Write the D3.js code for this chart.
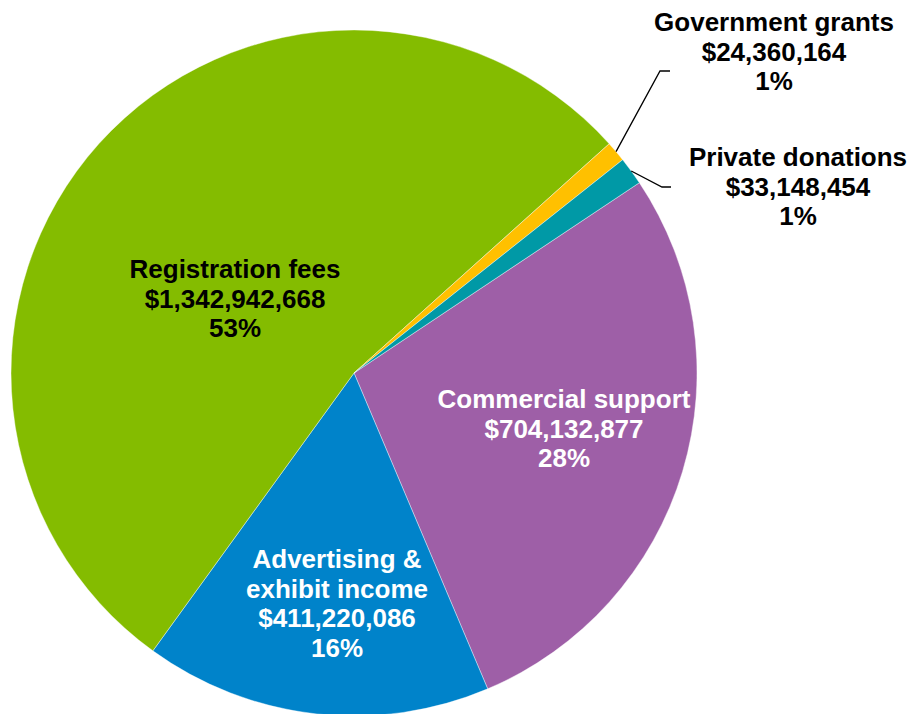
<!DOCTYPE html>
<html>
<head>
<meta charset="utf-8">
<script src="https://cdn.jsdelivr.net/npm/d3@7"></script>
<style>
  html, body { margin: 0; padding: 0; background: #fff; }
  svg { display: block; }
  text { font-family: Arial, "Liberation Sans", sans-serif; font-weight: bold; font-size: 26px; }
</style>
</head>
<body>
<svg id="chart" width="912" height="714"></svg>
<script>
// Revenue sources, in drawing order (clockwise)
const categories = ["Commercial support", "Advertising & exhibit income", "Registration fees", "Government grants", "Private donations"];
const values = [704132877, 411220086, 1342942668, 24360164, 33148454];
const colors = ["#9E5FA7", "#0083CA", "#84BC00", "#FFC000", "#0099A6"];

// Text lines of each label (name may wrap over two lines)
const nameLines = [["Commercial support"], ["Advertising &", "exhibit income"], ["Registration fees"], ["Government grants"], ["Private donations"]];
const textColors = ["#fff", "#fff", "#000", "#000", "#000"];

// Label layout: anchor x, first baseline y; optional elbow for leader lines
const labelLayout = [
  { x: 564, y: 408 },
  { x: 337, y: 568 },
  { x: 235, y: 278 },
  { x: 774, y: 31, elbow: [660, 71], end: [670, 71] },
  { x: 798, y: 166, elbow: [662, 187], end: [671, 187] }
];

const cx = 354, cy = 373, R = 343;
const lineGap = 29.5;

const total = d3.sum(values);
const fmtMoney = v => "$" + d3.format(",")(v);
const fmtPct = v => Math.round(v / total * 100) + "%";

const svg = d3.select("#chart");
const g = svg.append("g").attr("transform", `translate(${cx},${cy})`);

const start = 56.3 * Math.PI / 180;
const pie = d3.pie().sort(null).value(d => d).startAngle(start).endAngle(start + 2 * Math.PI);
const arcs = pie(values);
const arc = d3.arc().innerRadius(0).outerRadius(R);

g.selectAll("path.slice")
  .data(arcs)
  .join("path")
  .attr("class", "slice")
  .attr("d", arc)
  .attr("fill", (d, i) => colors[i])
  .attr("stroke", "#fff")
  .attr("stroke-width", 0.4);

// Leader lines for the thin slices
const edgeArc = d3.arc().innerRadius(R).outerRadius(R);
arcs.forEach((d, i) => {
  const L = labelLayout[i];
  if (!L.elbow) return;
  const [px, py] = edgeArc.centroid(d);
  svg.append("polyline")
    .attr("points", [[cx + px, cy + py], L.elbow, L.end].map(p => p.join(",")).join(" "))
    .attr("fill", "none")
    .attr("stroke", "#000")
    .attr("stroke-width", 1.3);
});

// Labels: name, amount, share
arcs.forEach((d, i) => {
  const L = labelLayout[i];
  const lines = nameLines[i].concat([fmtMoney(values[i]), fmtPct(values[i])]);
  const t = svg.append("text")
    .attr("text-anchor", "middle")
    .attr("fill", textColors[i]);
  lines.forEach((s, k) => {
    t.append("tspan").attr("x", L.x).attr("y", L.y + k * lineGap).text(s);
  });
});
</script>
</body>
</html>
